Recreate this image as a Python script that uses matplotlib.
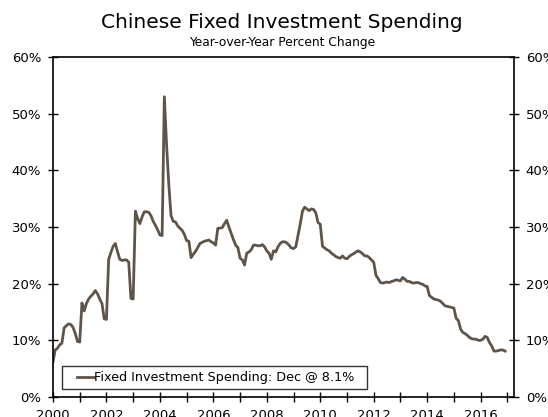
import numpy as np
import matplotlib.pyplot as plt
from matplotlib.patches import Rectangle
from matplotlib.ticker import MultipleLocator, PercentFormatter

# Chinese fixed asset investment, y/y % change, monthly Jan 2000 - Dec 2016
start_year = 2000
fai_yoy = [
    6.2, 8.3, 8.6, 9.2, 9.5, 12.2, 12.6, 12.9, 12.8, 12.3, 11.2, 9.8,
    9.7, 16.6, 15.2, 16.5, 17.3, 17.8, 18.2, 18.8, 18.2, 17.3, 16.5, 13.8,
    13.7, 24.3, 25.5, 26.6, 27.1, 25.6, 24.3, 24.1, 24.2, 24.2, 23.8, 17.4,
    17.3, 32.8, 31.5, 30.6, 31.8, 32.7, 32.7, 32.6, 32.0, 31.0, 30.3, 29.5,
    28.6, 28.5, 53.0, 44.5, 37.5, 32.0, 31.0, 30.9, 30.2, 29.8, 29.4, 28.7,
    27.6, 27.5, 24.6, 25.2, 25.7, 26.4, 27.1, 27.3, 27.5, 27.6, 27.7, 27.4,
    27.2, 26.8, 29.8, 29.8, 29.9, 30.6, 31.2, 30.0, 28.9, 27.8, 26.8, 26.4,
    24.5, 24.2, 23.3, 25.4, 25.6, 26.0, 26.8, 26.8, 26.7, 26.7, 26.9, 26.5,
    25.8, 25.4, 24.3, 25.8, 25.6, 26.5, 27.1, 27.4, 27.4, 27.2, 26.8, 26.3,
    26.2, 26.5, 28.5, 30.5, 32.8, 33.5, 33.2, 32.9, 33.2, 33.1, 32.5, 30.8,
    30.5, 26.6, 26.3, 26.0, 25.8, 25.4, 25.1, 24.8, 24.6, 24.5, 24.9, 24.5,
    24.4, 24.8, 25.1, 25.3, 25.6, 25.8, 25.6, 25.3, 24.9, 24.9, 24.6, 24.2,
    23.8, 21.5, 20.9, 20.2, 20.1, 20.2, 20.3, 20.2, 20.4, 20.5, 20.7, 20.6,
    20.5, 21.1, 20.8, 20.4, 20.4, 20.2, 20.1, 20.2, 20.2, 20.0, 19.9, 19.6,
    19.5, 17.9, 17.6, 17.3, 17.2, 17.1, 16.9, 16.5, 16.1, 16.0, 15.9, 15.8,
    15.7, 13.9, 13.5, 12.0, 11.4, 11.2, 10.9, 10.5, 10.3, 10.2, 10.2, 10.0,
    10.0, 10.2, 10.7, 10.5, 9.6, 9.0, 8.1, 8.1, 8.2, 8.3, 8.3, 8.1,
]
series_label = "Fixed Investment Spending: Dec @ 8.1%"

dates = start_year + np.arange(len(fai_yoy)) / 12.0

fig = plt.figure(figsize=(5.48, 4.17), dpi=100)
ax = fig.add_axes([0.0967, 0.048, 0.8413, 0.815])

ax.plot(dates, fai_yoy, color="#5e5449", lw=2.0, label=series_label)

ax.set_xlim(2000, 2017.25)
ax.set_ylim(0, 60)
ax.xaxis.set_major_locator(MultipleLocator(2))
ax.xaxis.set_minor_locator(MultipleLocator(1))
ax.yaxis.set_major_locator(MultipleLocator(10))
ax.yaxis.set_major_formatter(PercentFormatter(decimals=0))
ax.tick_params(axis="both", which="both", direction="inout", length=7,
               width=1, labelsize=9.5, colors="black")
ax.tick_params(axis="y", right=True, labelright=True, pad=5)
ax.tick_params(axis="x", which="both", top=False, pad=5)
for s in ax.spines.values():
    s.set_linewidth(1.2)

# legend box drawn separately so the padding can be wider than tall
ax.add_patch(Rectangle((0.0195, 0.0226), 0.6615, 0.0694,
                       transform=ax.transAxes, fill=True, facecolor="white",
                       edgecolor="#333333", lw=1.0, zorder=4))
leg = ax.legend(loc="center left", bbox_to_anchor=(0.052, 0.0573),
                fontsize=9.2, frameon=False, handlelength=1.3,
                handletextpad=0.05, borderpad=0, borderaxespad=0)
leg.set_zorder(5)

fig.text(0.515, 0.947, "Chinese Fixed Investment Spending", ha="center",
         va="center", fontsize=14.5)
fig.text(0.515, 0.899, "Year-over-Year Percent Change", ha="center",
         va="center", fontsize=8.8)

fig.savefig("out.png", dpi=100)
